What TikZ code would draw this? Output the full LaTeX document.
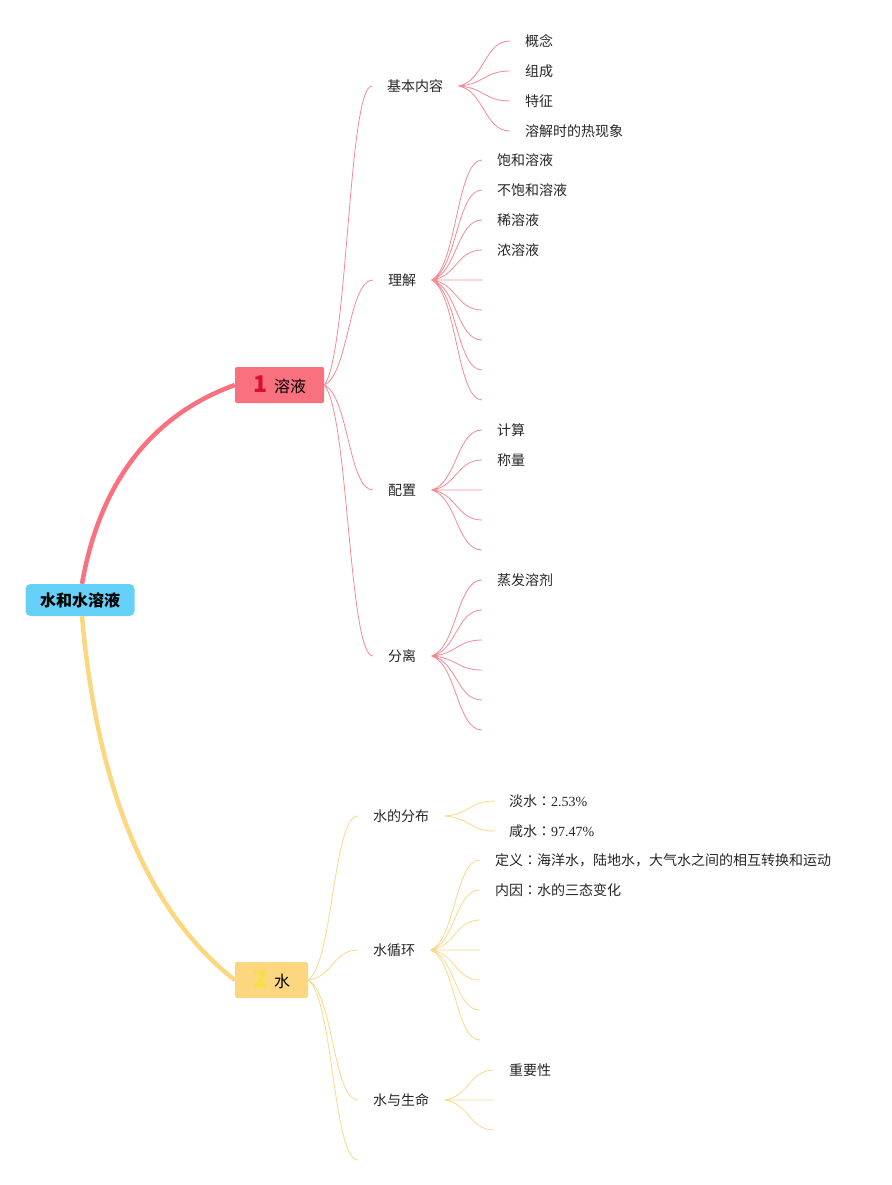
\documentclass[tikz,border=0pt]{standalone}
\usepackage{fontspec}
\setmainfont{Noto Sans CJK SC}
\newfontfamily\numfont{Liberation Serif}
\newfontfamily\tcfont{Noto Sans CJK TC}
\usetikzlibrary{calc}
\definecolor{rootblue}{HTML}{66D1F8}
\definecolor{redbox}{HTML}{F9707E}
\definecolor{rednum}{HTML}{D8102B}
\definecolor{redline}{HTML}{F48A95}
\definecolor{yelbox}{HTML}{FDD780}
\definecolor{yelnum}{HTML}{F6E13F}
\definecolor{yelline}{HTML}{FAD889}
\newcommand{\bignum}{\fontsize{23}{23}\bfseries}
\newcommand{\fullcolon}{{\tcfont ：}}

\begin{document}
\begin{tikzpicture}[x=1pt,y=-1pt]
  \tikzstyle{root}=[rounded corners=5pt,fill=rootblue,minimum width=109pt,minimum height=32pt,inner sep=0pt,font=\fontsize{16}{18}\bfseries\selectfont]
  \tikzstyle{topic}=[rounded corners=2pt,minimum height=36pt,inner sep=0pt,font=\fontsize{16}{18}\selectfont]
  \tikzstyle{sub}=[anchor=west,inner xsep=15pt,inner ysep=2pt,font=\fontsize{14}{16}\selectfont,text=black!85]
  \tikzstyle{leaf}=[anchor=west,inner xsep=15pt,inner ysep=2pt,font=\fontsize{14}{16}\selectfont,text=black!85]
  \tikzstyle{trunk}=[line width=4.5pt]
  \tikzstyle{link}=[line width=0.8pt,to path={let \p1=(\tikztostart), \p2=(\tikztotarget) in
      .. controls (0.5*\x1+0.5*\x2, 0.9*\y1+0.1*\y2) and (0.5*\x1+0.5*\x2, \y2) .. (\tikztotarget)}]

  \useasboundingbox (0,0) rectangle (891,1185);

  % centre and main topics
  \node[root] (root) at (80,600) {水和水溶液};
  \node[topic,fill=redbox,minimum width=89pt] (sol) at (279.5,385) {{\bignum\color{rednum}1}\hspace{7pt}溶液};
  \node[topic,fill=yelbox,minimum width=73pt] (water) at (271.5,980) {{\bignum\color{yelnum}2}\hspace{7pt}水};

  \draw[trunk,redbox] ([xshift=2pt]root.north) to[out=80,in=200,out distance=104pt,in distance=88pt] (sol.west);
  \draw[trunk,yelbox] ([xshift=2pt]root.south) to[out=-85,in=142,out distance=177pt,in distance=109pt] (water.west);

  % 溶液
  \node[sub] (basic) at (372,86) {基本内容};
  \node[sub] (under) at (373,280) {理解};
  \node[sub] (prep) at (373,490) {配置};
  \node[sub] (sep) at (373,656) {分离};
  \draw[link,redline] (sol.east) to (basic.west) (sol.east) to (under.west)
    (sol.east) to (prep.west) (sol.east) to (sep.west);

  \node[leaf] (basic1) at (510,41) {概念};
  \node[leaf] (basic2) at (510,71) {组成};
  \node[leaf] (basic3) at (510,101) {特征};
  \node[leaf] (basic4) at (510,131) {溶解时的热现象};
  \draw[link,redline] (basic.east) to (basic1.west) (basic.east) to (basic2.west)
    (basic.east) to (basic3.west) (basic.east) to (basic4.west);

  \node[leaf] (under1) at (482,160) {饱和溶液};
  \node[leaf] (under2) at (482,190) {不饱和溶液};
  \node[leaf] (under3) at (482,220) {稀溶液};
  \node[leaf] (under4) at (482,250) {浓溶液};
  \coordinate (under5) at (482,280);
  \coordinate (under6) at (482,310);
  \coordinate (under7) at (482,340);
  \coordinate (under8) at (482,370);
  \coordinate (under9) at (482,400);
  \draw[link,redline] (under.east) to (under1.west) (under.east) to (under2.west)
    (under.east) to (under3.west) (under.east) to (under4.west)
    (under.east) to (under5) (under.east) to (under6) (under.east) to (under7)
    (under.east) to (under8) (under.east) to (under9);

  \node[leaf] (prep1) at (482,430) {计算};
  \node[leaf] (prep2) at (482,460) {称量};
  \coordinate (prep3) at (482,490);
  \coordinate (prep4) at (482,520);
  \coordinate (prep5) at (482,550);
  \draw[link,redline] (prep.east) to (prep1.west) (prep.east) to (prep2.west)
    (prep.east) to (prep3) (prep.east) to (prep4) (prep.east) to (prep5);

  \node[leaf] (sep1) at (482,580) {蒸发溶剂};
  \coordinate (sep2) at (482,610);
  \coordinate (sep3) at (482,640);
  \coordinate (sep4) at (482,670);
  \coordinate (sep5) at (482,700);
  \coordinate (sep6) at (482,730);
  \draw[link,redline] (sep.east) to (sep1.west) (sep.east) to (sep2)
    (sep.east) to (sep3) (sep.east) to (sep4) (sep.east) to (sep5) (sep.east) to (sep6);

  % 水
  \node[sub] (dist) at (358,816) {水的分布};
  \node[sub] (cycle) at (358,950) {水循环};
  \node[sub] (life) at (358,1100) {水与生命};
  \coordinate (wend) at (358,1160);
  \draw[link,yelline] (water.east) to (dist.west) (water.east) to (cycle.west)
    (water.east) to (life.west) (water.east) to (wend);

  \node[leaf,inner xsep=14pt] (dist1) at (495,801) {淡水\fullcolon{\numfont 2.53\%}};
  \node[leaf,inner xsep=14pt] (dist2) at (495,831) {咸水\fullcolon{\numfont 97.47\%}};
  \draw[link,yelline] (dist.east) to (dist1.west) (dist.east) to (dist2.west);

  \node[leaf] (cycle1) at (480,860) {定义\fullcolon 海洋水，陆地水，大气水之间的相互转换和运动};
  \node[leaf] (cycle2) at (480,890) {内因\fullcolon 水的三态变化};
  \coordinate (cycle3) at (480,920);
  \coordinate (cycle4) at (480,950);
  \coordinate (cycle5) at (480,980);
  \coordinate (cycle6) at (480,1010);
  \coordinate (cycle7) at (480,1040);
  \draw[link,yelline] (cycle.east) to (cycle1.west) (cycle.east) to (cycle2.west)
    (cycle.east) to (cycle3) (cycle.east) to (cycle4) (cycle.east) to (cycle5)
    (cycle.east) to (cycle6) (cycle.east) to (cycle7);

  \node[leaf] (life1) at (494,1070) {重要性};
  \coordinate (life2) at (494,1100);
  \coordinate (life3) at (494,1130);
  \draw[link,yelline] (life.east) to (life1.west) (life.east) to (life2) (life.east) to (life3);

\end{tikzpicture}
\end{document}
